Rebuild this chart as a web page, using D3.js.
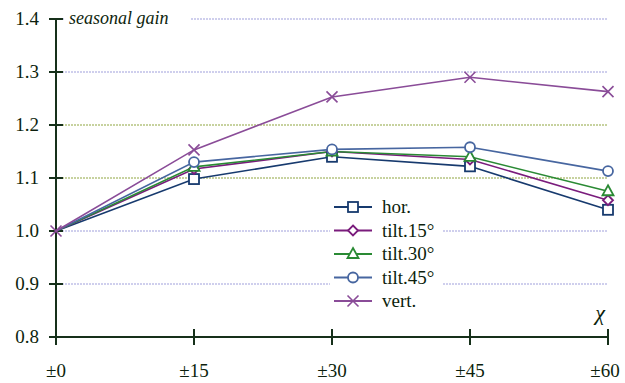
<!DOCTYPE html>
<html lang="en">
<head>
<meta charset="UTF-8">
<title>Seasonal gain</title>
<style>
    body { margin: 0; background: #fff; }
</style>
</head>
<body>
<div id="chart"></div>
<script src="https://d3js.org/d3.v7.min.js"></script>
<script>
    // chart data
    const angles = [0, 15, 30, 45, 60];
    const xLabels = ["±0", "±15", "±30", "±45", "±60"];
    const yTicks = [0.8, 0.9, 1.0, 1.1, 1.2, 1.3, 1.4];
    const hor = [1.0, 1.098, 1.140, 1.122, 1.040];
    const tilt15 = [1.0, 1.117, 1.150, 1.135, 1.058];
    const tilt30 = [1.0, 1.121, 1.150, 1.140, 1.075];
    const tilt45 = [1.0, 1.130, 1.154, 1.158, 1.113];
    const vert = [1.0, 1.153, 1.253, 1.290, 1.263];

    const series = [
        { name: "hor.", values: hor, color: "#173a6e", marker: "square" },
        { name: "tilt.15°", values: tilt15, color: "#7a1c7c", marker: "diamond" },
        { name: "tilt.30°", values: tilt30, color: "#2a8a34", marker: "triangle" },
        { name: "tilt.45°", values: tilt45, color: "#4766a0", marker: "circle" },
        { name: "vert.", values: vert, color: "#8a4c98", marker: "cross" }
    ];

    const serif = '"Liberation Serif", "Times New Roman", Times, "DejaVu Serif", serif';
    const textColor = '#0d1f0d';
    const width = 625, height = 383;
    const x = d3.scaleLinear().domain([0, 60]).range([56, 608]);
    const y = d3.scaleLinear().domain([0.8, 1.4]).range([337, 19]);

    const svg = d3.select('#chart').append('svg')
        .attr('width', width)
        .attr('height', height)
        .attr('font-family', serif);

    // grid lines (1.1 and 1.2 green, the others blue)
    svg.append('g').selectAll('line')
        .data(yTicks.filter(d => d > 0.8))
        .enter().append('line')
        .attr('x1', x(0)).attr('x2', x(60))
        .attr('y1', d => y(d)).attr('y2', d => y(d))
        .attr('stroke', d => (Math.abs(d - 1.1) < 1e-6 || Math.abs(d - 1.2) < 1e-6) ? '#8fa640' : '#a0a0dc')
        .attr('stroke-width', 1.2)
        .attr('stroke-dasharray', '2,1');

    // title label with white backing over the top grid line
    svg.append('rect')
        .attr('x', 64).attr('y', 8).attr('width', 126).attr('height', 22)
        .attr('fill', '#fff');
    svg.append('text')
        .attr('x', 69).attr('y', y(1.4) + 5)
        .attr('font-size', 18)
        .attr('font-style', 'italic')
        .attr('fill', textColor)
        .text('seasonal gain');

    // axes
    const axisColor = '#16301a';
    svg.append('line')
        .attr('x1', x(0)).attr('x2', x(0))
        .attr('y1', y(1.4)).attr('y2', y(0.8))
        .attr('stroke', axisColor).attr('stroke-width', 2);
    svg.append('line')
        .attr('x1', x(0) - 7).attr('x2', x(60))
        .attr('y1', y(0.8)).attr('y2', y(0.8))
        .attr('stroke', axisColor).attr('stroke-width', 2);

    svg.append('g').selectAll('line')
        .data(yTicks)
        .enter().append('line')
        .attr('x1', x(0) - 7).attr('x2', x(0) + 7)
        .attr('y1', d => y(d)).attr('y2', d => y(d))
        .attr('stroke', axisColor).attr('stroke-width', 2);

    svg.append('g').selectAll('text')
        .data(yTicks)
        .enter().append('text')
        .attr('x', 39)
        .attr('y', d => y(d) + 6)
        .attr('text-anchor', 'end')
        .attr('font-size', 19)
        .attr('fill', textColor)
        .text(d => d.toFixed(1));

    svg.append('g').selectAll('line')
        .data(angles)
        .enter().append('line')
        .attr('x1', d => x(d)).attr('x2', d => x(d))
        .attr('y1', y(0.8) - 8).attr('y2', y(0.8) + 8)
        .attr('stroke', axisColor).attr('stroke-width', 2);

    svg.append('g').selectAll('text')
        .data(angles)
        .enter().append('text')
        .attr('x', (d, i) => x(d) + (i === angles.length - 1 ? -3 : 0))
        .attr('y', 377)
        .attr('text-anchor', 'middle')
        .attr('font-size', 19)
        .attr('fill', textColor)
        .text((d, i) => xLabels[i]);

    svg.append('text')
        .attr('x', 600).attr('y', 320)
        .attr('text-anchor', 'middle')
        .attr('font-size', 22)
        .attr('font-style', 'italic')
        .attr('fill', textColor)
        .text('χ');

    // markers
    function drawMarker(g, type, color) {
        if (type === 'square') {
            g.append('rect').attr('x', -5).attr('y', -5).attr('width', 10).attr('height', 10)
                .attr('fill', '#fff').attr('stroke', color).attr('stroke-width', 1.8);
        } else if (type === 'diamond') {
            g.append('path').attr('d', 'M0,-5L5,0L0,5L-5,0Z')
                .attr('fill', '#fff').attr('stroke', color).attr('stroke-width', 1.8);
        } else if (type === 'triangle') {
            g.append('path').attr('d', 'M0,-6L5.5,4L-5.5,4Z')
                .attr('fill', '#fff').attr('stroke', color).attr('stroke-width', 1.8);
        } else if (type === 'circle') {
            g.append('circle').attr('r', 5)
                .attr('fill', '#fff').attr('stroke', color).attr('stroke-width', 1.8);
        } else if (type === 'cross') {
            g.append('path').attr('d', 'M-5.5,-5.5L5.5,5.5M-5.5,5.5L5.5,-5.5')
                .attr('fill', 'none').attr('stroke', color).attr('stroke-width', 1.6);
        }
    }

    const line = d3.line()
        .x((d, i) => x(angles[i]))
        .y(d => y(d));

    series.forEach(s => {
        svg.append('path')
            .datum(s.values)
            .attr('d', line)
            .attr('fill', 'none')
            .attr('stroke', s.color)
            .attr('stroke-width', 1.6);
    });

    // all series start at the same point; only the vert. cross shows there
    series.forEach(s => {
        s.values.forEach((v, i) => {
            if (i === 0 && s.marker !== 'cross') return;
            const g = svg.append('g').attr('transform', `translate(${x(angles[i])},${y(v)})`);
            drawMarker(g, s.marker, s.color);
        });
    });

    // legend
    const legend = svg.append('g');
    legend.append('rect')
        .attr('x', 330).attr('y', 195).attr('width', 112).attr('height', 117)
        .attr('fill', '#fff');
    series.forEach((s, i) => {
        const ly = 207 + i * 23.5;
        legend.append('line')
            .attr('x1', 334).attr('x2', 372)
            .attr('y1', ly).attr('y2', ly)
            .attr('stroke', s.color).attr('stroke-width', 1.8);
        const g = legend.append('g').attr('transform', `translate(353,${ly})`);
        drawMarker(g, s.marker, s.color);
        legend.append('text')
            .attr('x', 382).attr('y', ly + 6)
            .attr('font-size', 19)
            .attr('fill', textColor)
            .text(s.name);
    });
</script>
</body>
</html>
